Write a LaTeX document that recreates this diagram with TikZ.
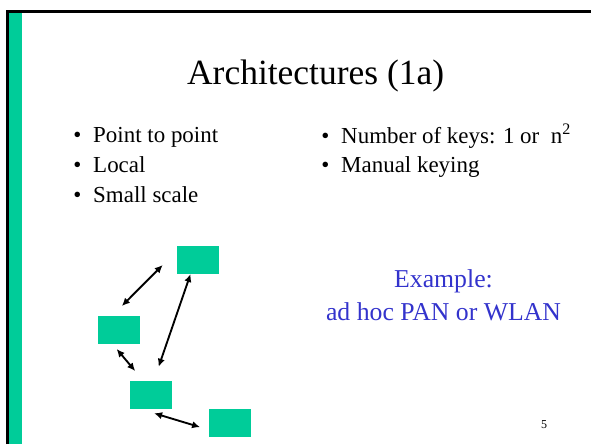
\documentclass[tikz,border=0pt]{standalone}
\usepackage{fontspec}
\setmainfont{Liberation Serif}
\usetikzlibrary{positioning,arrows.meta}
\definecolor{slidegreen}{RGB}{0,204,153}
\definecolor{slideblue}{RGB}{51,51,204}
\newcommand{\bulletitem}[1]{\makebox[15pt][l]{\textbullet}#1}

\begin{document}
\begin{tikzpicture}[x=0.75pt,y=-0.75pt,
  dev/.style={
   fill=slidegreen,
   minimum width=31.5pt,
   minimum height=21pt,
   inner sep=0pt,
   outer sep=0pt
  },
  item/.style={
   anchor=base west,
   inner sep=0pt,
   font=\fontsize{17.2}{20}\selectfont
  },
  link/.style={
   {Latex[length=6pt,width=5.5pt]}-{Latex[length=6pt,width=5.5pt]},
   line width=1.4pt
  }]
  \useasboundingbox (0,0) rectangle (591,444);
  % slide frame
  \fill[slidegreen] (9,12.7) rectangle (22,444);
  \draw[line width=2pt] (7.8,444) -- (7.8,11.5) -- (591,11.5);

  \node[anchor=base,inner sep=0pt,font=\fontsize{26.6}{32}\selectfont] 
	  (title) at (315.6,84) {Architectures (1a)};

  \node[item] (l1) at (73,142) {\bulletitem{Point to point}};
  \node[item] (l2) at (73,172) {\bulletitem{Local}};
  \node[item] (l3) at (73,202) {\bulletitem{Small scale}};

  \node[item] (r1) at (321,143) {\bulletitem{Number of keys: 1 or \ n\textsuperscript{2}}};
  \node[item] (r2) at (321,172) {\bulletitem{Manual keying}};

  \node[align=center,inner sep=0pt,text=slideblue,font=\fontsize{19.3}{24.5}\selectfont] 
	  (example) at (443.5,295) {Example:\\ad hoc PAN or WLAN};

  % devices
  \node[dev] (dev1) at (198,260) {};
  \node[dev] (dev2) at (119,330) {};
  \node[dev] (dev3) at (151,395) {};
  \node[dev] (dev4) at (230,423) {};

  \draw[link,shorten <=10.6pt,shorten >=15.2pt] (dev2.117.5) -- (dev1.156);
  \draw[link,shorten >=11.3pt] (dev1.242.5) -- (dev3.79);
  \draw[link,shorten <=4.9pt,shorten >=9.8pt] (dev2.245) -- (dev3.118.8);
  \draw[link,shorten <=11pt,shorten >=7pt] (dev3.232.6) -- (dev4.198.7);

  \node[anchor=base,inner sep=0pt,font=\fontsize{9}{10}\selectfont] 
	  (page) at (544,428) {5};
\end{tikzpicture}
\end{document}
